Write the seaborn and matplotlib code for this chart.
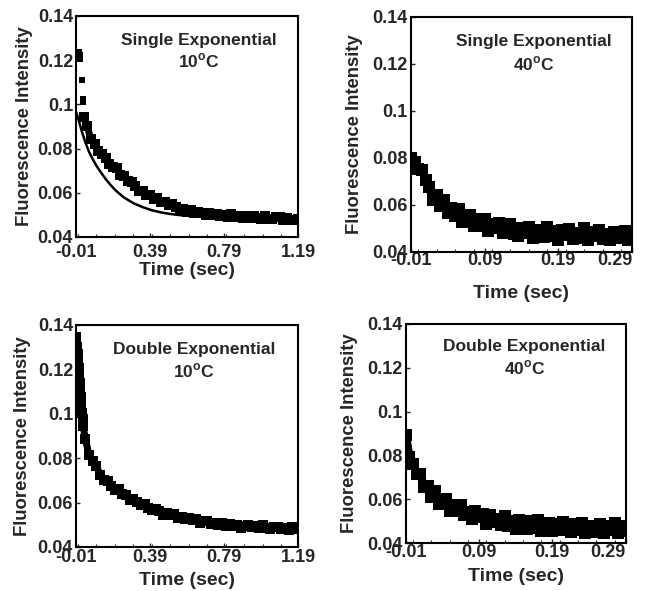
import matplotlib
matplotlib.use("Agg")
import matplotlib.pyplot as plt
from matplotlib.ticker import MultipleLocator
import seaborn as sns
import pandas as pd

# ---- panel 1: single exponential, 10 C ----
p1_early_t = [0.008, 0.010, 0.012, 0.022, 0.026, 0.027]
p1_early_y = [0.1238, 0.1222, 0.1205, 0.1112, 0.1025, 0.1010]
p1_t = [0.03, 0.05, 0.07, 0.09, 0.11, 0.13, 0.15, 0.17, 0.19, 0.21,
        0.23, 0.25, 0.27, 0.29, 0.31, 0.33, 0.35, 0.37, 0.39, 0.41,
        0.43, 0.45, 0.47, 0.49, 0.51, 0.53, 0.55, 0.57, 0.59, 0.61,
        0.63, 0.65, 0.67, 0.69, 0.71, 0.73, 0.75, 0.77, 0.79, 0.81,
        0.83, 0.85, 0.87, 0.89, 0.91, 0.93, 0.95, 0.97, 0.99, 1.01,
        1.03, 1.05, 1.07, 1.09, 1.11, 1.13, 1.15, 1.17, 1.19]
p1_y = [0.0944, 0.0900, 0.0843, 0.0820, 0.0789, 0.0777, 0.0756, 0.0731, 0.0718, 0.0711,
        0.0682, 0.0676, 0.0654, 0.0649, 0.0630, 0.0608, 0.0610, 0.0592, 0.0589, 0.0571,
        0.0576, 0.0560, 0.0558, 0.0543, 0.0547, 0.0534, 0.0523, 0.0527, 0.0512, 0.0521,
        0.0509, 0.0515, 0.0508, 0.0498, 0.0508, 0.0498, 0.0506, 0.0494, 0.0499, 0.0489,
        0.0502, 0.0492, 0.0496, 0.0484, 0.0493, 0.0485, 0.0495, 0.0486, 0.0482, 0.0494,
        0.0482, 0.0483, 0.0489, 0.0491, 0.0479, 0.0487, 0.0475, 0.0477, 0.0483]
p1_fit_t = [-0.01, 0.0, 0.02, 0.04, 0.06, 0.08, 0.10, 0.12, 0.15, 0.18, 0.21, 0.25,
            0.30, 0.35, 0.40, 0.45, 0.50, 0.55, 0.60, 0.70, 0.80, 0.90, 1.00, 1.10, 1.19]
p1_fit_y = [0.0965, 0.0940, 0.0880, 0.0828, 0.0785, 0.0752, 0.0722, 0.0697, 0.0662, 0.0632,
            0.0606, 0.0578, 0.0553, 0.0535, 0.0521, 0.0511, 0.0504, 0.0499, 0.0496, 0.0492,
            0.0490, 0.0489, 0.0488, 0.0487, 0.0486]

# ---- shared time grid for the 40 C panels ----
t40 = [-0.010, -0.005, 0.000, 0.005, 0.010, 0.015, 0.020, 0.025, 0.030, 0.035,
       0.040, 0.045, 0.050, 0.055, 0.060, 0.065, 0.070, 0.075, 0.080, 0.085,
       0.090, 0.095, 0.100, 0.105, 0.110, 0.115, 0.120, 0.125, 0.130, 0.135,
       0.140, 0.145, 0.150, 0.155, 0.160, 0.165, 0.170, 0.175, 0.180, 0.185,
       0.190, 0.195, 0.200, 0.205, 0.210, 0.215, 0.220, 0.225, 0.230, 0.235,
       0.240, 0.245, 0.250, 0.255, 0.260, 0.265, 0.270, 0.275, 0.280, 0.285, 0.290]

# ---- panel 2: single exponential, 40 C ----
p2_y = [0.0800, 0.0783, 0.0750, 0.0748, 0.0705, 0.0675, 0.0620, 0.0640, 0.0596, 0.0620,
        0.0565, 0.0585, 0.0551, 0.0583, 0.0525, 0.0548, 0.0557, 0.0511, 0.0541, 0.0511,
        0.0541, 0.0487, 0.0518, 0.0500, 0.0522, 0.0479, 0.0501, 0.0519, 0.0477, 0.0465,
        0.0503, 0.0481, 0.0505, 0.0459, 0.0493, 0.0482, 0.0461, 0.0505, 0.0469, 0.0488,
        0.0452, 0.0492, 0.0471, 0.0496, 0.0455, 0.0480, 0.0459, 0.0499, 0.0448, 0.0483,
        0.0467, 0.0492, 0.0456, 0.0476, 0.0450, 0.0485, 0.0474, 0.0459, 0.0488, 0.0448, 0.0477]
p2_fit_t = [-0.01, 0.0, 0.01, 0.02, 0.03, 0.04, 0.05, 0.06, 0.07, 0.08,
            0.09, 0.10, 0.11, 0.12, 0.14, 0.16, 0.19, 0.22, 0.25, 0.29]
p2_fit_y = [0.0800, 0.0752, 0.0700, 0.0640, 0.0603, 0.0582, 0.0563, 0.0549, 0.0536, 0.0525,
            0.0516, 0.0508, 0.0502, 0.0496, 0.0488, 0.0483, 0.0477, 0.0474, 0.0471, 0.0467]

# ---- panel 3: double exponential, 10 C ----
p3_t = [-0.008, -0.005, -0.002, 0.001, 0.004, 0.007, 0.010, 0.013, 0.016, 0.019, 0.022, 0.025, 0.028,
        0.04, 0.06, 0.08, 0.10, 0.12, 0.14, 0.16, 0.18, 0.20, 0.22,
        0.24, 0.26, 0.28, 0.30, 0.32, 0.34, 0.36, 0.38, 0.40, 0.42,
        0.44, 0.46, 0.48, 0.50, 0.52, 0.54, 0.56, 0.58, 0.60, 0.62,
        0.64, 0.66, 0.68, 0.70, 0.72, 0.74, 0.76, 0.78, 0.80, 0.82,
        0.84, 0.86, 0.88, 0.90, 0.92, 0.94, 0.96, 0.98, 1.00, 1.02,
        1.04, 1.06, 1.08, 1.10, 1.12, 1.14, 1.16, 1.18]
p3_y = [0.1345, 0.1300, 0.1270, 0.1235, 0.1205, 0.1175, 0.1140, 0.1105, 0.1075, 0.1040, 0.1005, 0.0975, 0.0945,
        0.0885, 0.0814, 0.0786, 0.0763, 0.0726, 0.0701, 0.0696, 0.0675, 0.0658, 0.0659,
        0.0638, 0.0634, 0.0612, 0.0616, 0.0604, 0.0588, 0.0593, 0.0576, 0.0565, 0.0570,
        0.0561, 0.0546, 0.0552, 0.0543, 0.0548, 0.0530, 0.0534, 0.0525, 0.0532, 0.0520,
        0.0525, 0.0510, 0.0515, 0.0517, 0.0503, 0.0508, 0.0501, 0.0508, 0.0493, 0.0502,
        0.0494, 0.0501, 0.0487, 0.0496, 0.0500, 0.0489, 0.0495, 0.0485, 0.0497, 0.0487,
        0.0483, 0.0491, 0.0492, 0.0483, 0.0487, 0.0477, 0.0488, 0.0482]
p3_fit_t = [-0.01, -0.005, 0.0, 0.01, 0.02, 0.03, 0.05, 0.08, 0.12, 0.18,
            0.25, 0.35, 0.45, 0.55, 0.70, 0.85, 1.00, 1.19]
p3_fit_y = [0.1360, 0.1280, 0.1220, 0.1110, 0.1010, 0.0930, 0.0845, 0.0785, 0.0730, 0.0670,
            0.0625, 0.0585, 0.0553, 0.0533, 0.0510, 0.0496, 0.0490, 0.0483]

# ---- panel 4: double exponential, 40 C ----
p4_y = [0.0895, 0.0795, 0.0760, 0.0715, 0.0715, 0.0655, 0.0660, 0.0610, 0.0637, 0.0580,
        0.0595, 0.0600, 0.0546, 0.0573, 0.0546, 0.0574, 0.0528, 0.0542, 0.0512, 0.0547,
        0.0517, 0.0533, 0.0489, 0.0530, 0.0497, 0.0509, 0.0481, 0.0523, 0.0480, 0.0503,
        0.0466, 0.0504, 0.0487, 0.0465, 0.0503, 0.0471, 0.0505, 0.0454, 0.0483, 0.0492,
        0.0456, 0.0485, 0.0459, 0.0498, 0.0467, 0.0452, 0.0486, 0.0461, 0.0490, 0.0445,
        0.0479, 0.0474, 0.0453, 0.0488, 0.0447, 0.0477, 0.0461, 0.0491, 0.0445, 0.0480, 0.0454]
p4_fit_t = [-0.01, -0.005, 0.0, 0.005, 0.01, 0.02, 0.03, 0.05, 0.07, 0.10, 0.14, 0.19, 0.24, 0.29]
p4_fit_y = [0.0905, 0.0805, 0.0755, 0.0722, 0.0697, 0.0645, 0.0612, 0.0570, 0.0543, 0.0514,
            0.0491, 0.0476, 0.0469, 0.0464]

yticks = [0.04, 0.06, 0.08, 0.1, 0.12, 0.14]
ytick_labels = ["0.04", "0.06", "0.08", "0.1", "0.12", "0.14"]
xticks_long = [-0.01, 0.39, 0.79, 1.19]
xticks_short = [-0.01, 0.09, 0.19, 0.29]

sns.set_style("white")
plt.rcParams["font.family"] = ["Liberation Sans", "DejaVu Sans"]
plt.rcParams["font.weight"] = "bold"
plt.rcParams["axes.labelweight"] = "bold"
plt.rcParams["mathtext.fontset"] = "custom"
plt.rcParams["mathtext.bf"] = "Liberation Sans:bold"
plt.rcParams["mathtext.rm"] = "Liberation Sans:bold"

fig = plt.figure(figsize=(6.45, 5.91), dpi=100)


def draw_panel(rect, data_t, data_y, fit_t, fit_y, xticks, title, temp, tpos,
               ms, lw, xpad, xlab_y, ylab_x, early=None, right_last=False):
    ax = fig.add_axes(rect)
    fit = pd.DataFrame({"t": fit_t, "y": fit_y})
    sns.lineplot(data=fit, x="t", y="y", ax=ax, color="black", linewidth=1.8,
                 estimator=None, sort=False)
    d = pd.DataFrame({"t": data_t, "y": data_y})
    sns.lineplot(data=d, x="t", y="y", ax=ax, color="black", linewidth=lw,
                 marker="s", markersize=ms, markeredgewidth=0,
                 estimator=None, sort=False)
    if early is not None:
        e = pd.DataFrame({"t": early[0], "y": early[1]})
        sns.scatterplot(data=e, x="t", y="y", ax=ax, color="black", marker="s",
                        s=20, linewidth=0)
    ax.set_xlim(xticks[0], xticks[-1])
    ax.set_ylim(0.04, 0.14)
    ax.set_xticks(xticks)
    ax.set_xticklabels([f"{v:.2f}" for v in xticks])
    ax.set_yticks(yticks)
    ax.set_yticklabels(ytick_labels)
    ax.xaxis.set_minor_locator(MultipleLocator((xticks[1] - xticks[0]) / 4))
    ax.tick_params(axis="x", which="major", direction="in", length=3,
                   width=1, labelsize=13, pad=xpad, bottom=True)
    ax.tick_params(axis="y", which="major", direction="in", length=3,
                   width=1, labelsize=13, pad=2.2, left=True)
    ax.tick_params(axis="x", which="minor", direction="in", length=2,
                   width=0.8, bottom=True)
    for lab in ax.get_xticklabels() + ax.get_yticklabels():
        lab.set_fontweight("bold")
    if right_last:
        ax.get_xticklabels()[-1].set_horizontalalignment("right")
    for sp in ax.spines.values():
        sp.set_visible(True)
        sp.set_color("black")
        sp.set_linewidth(1.5)
    ax.set_xlabel("Time (sec)", fontsize=14, fontweight="bold")
    ax.set_ylabel("Fluorescence Intensity", fontsize=13.3, fontweight="bold")
    ax.xaxis.set_label_coords(0.5, xlab_y)
    ax.yaxis.set_label_coords(ylab_x, 0.5)
    ax.text(tpos[0], tpos[1], title, transform=ax.transAxes, ha="center",
            va="center", fontsize=12.5, fontweight="bold")
    ax.text(tpos[0], tpos[1] - 0.095, temp, transform=ax.transAxes, ha="center",
            va="center", fontsize=12.5, fontweight="bold")
    return ax


draw_panel([0.118, 0.599, 0.344, 0.374], p1_t, p1_y, p1_fit_t, p1_fit_y,
           xticks_long, "Single Exponential", "10$^{\\mathbf{o}}$C",
           (0.555, 0.89), ms=7.5, lw=5, xpad=4.8, xlab_y=-0.115, ylab_x=-0.195,
           early=(p1_early_t, p1_early_y))
draw_panel([0.637, 0.574, 0.343, 0.398], t40, p2_y, p2_fit_t, p2_fit_y,
           xticks_short, "Single Exponential", "40$^{\\mathbf{o}}$C",
           (0.557, 0.894), ms=8.5, lw=6, xpad=0.3, xlab_y=-0.14, ylab_x=-0.217,
           right_last=True)
draw_panel([0.118, 0.0745, 0.344, 0.376], p3_t, p3_y, p3_fit_t, p3_fit_y,
           xticks_long, "Double Exponential", "10$^{\\mathbf{o}}$C",
           (0.53, 0.887), ms=7.5, lw=5, xpad=1.5, xlab_y=-0.113, ylab_x=-0.205)
draw_panel([0.629, 0.081, 0.341, 0.371], t40, p4_y, p4_fit_t, p4_fit_y,
           xticks_short, "Double Exponential", "40$^{\\mathbf{o}}$C",
           (0.54, 0.895), ms=8.5, lw=6, xpad=0.8, xlab_y=-0.115, ylab_x=-0.218,
           right_last=True)

fig.savefig("out.png", dpi=100)
